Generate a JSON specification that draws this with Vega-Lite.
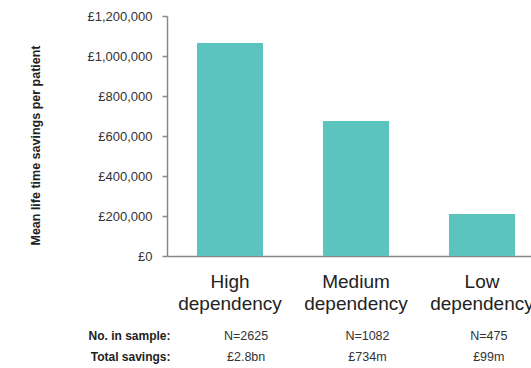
{
  "$schema": "https://vega.github.io/schema/vega-lite/v6.json",
  "autosize": {"type": "none"},
  "padding": {"left": 167, "top": 16, "right": 364, "bottom": 352},
  "background": "white",
  "config": {
    "view": {"stroke": null},
    "font": "Liberation Sans",
    "axis": {"labelFont": "Liberation Sans", "titleFont": "Liberation Sans"}
  },
  "datasets": {
    "bars": [
      {"cat": "High dependency", "value": 1065000},
      {"cat": "Medium dependency", "value": 675000},
      {"cat": "Low dependency", "value": 210000}
    ],
    "table": [
      {"cat": "High dependency", "row": "No. in sample:", "text": "N=2625"},
      {"cat": "Medium dependency", "row": "No. in sample:", "text": "N=1082"},
      {"cat": "Low dependency", "row": "No. in sample:", "text": "N=475"},
      {"cat": "High dependency", "row": "Total savings:", "text": "£2.8bn"},
      {"cat": "Medium dependency", "row": "Total savings:", "text": "£734m"},
      {"cat": "Low dependency", "row": "Total savings:", "text": "£99m"}
    ]
  },
  "bounds": "flush",
  "spacing": 69,
  "resolve": {"scale": {"x": "independent"}},
  "vconcat": [
    {
      "width": 364,
      "height": 240,
      "data": {"name": "bars"},
      "mark": {"type": "bar", "color": "#5BC4BF"},
      "encoding": {
        "x": {
          "field": "cat",
          "type": "nominal",
          "sort": ["High dependency", "Medium dependency", "Low dependency"],
          "scale": {"paddingInner": 0.476, "paddingOuter": 0.1825, "align": 0.652},
          "axis": {
            "title": null,
            "labelAngle": 0,
            "labelExpr": "split(datum.label, ' ')",
            "labelFontSize": 19,
            "labelLineHeight": 22,
            "labelColor": "#222222",
            "labelPadding": 16,
            "ticks": false,
            "domainColor": "#888888",
            "domainWidth": 1.5
          }
        },
        "y": {
          "field": "value",
          "type": "quantitative",
          "scale": {"domain": [0, 1200000]},
          "axis": {
            "title": "Mean life time savings per patient",
            "titleFontSize": 12.5,
            "titleFontWeight": "bold",
            "titleColor": "#222222",
            "titlePadding": 44,
            "titleY": 129,
            "values": [0, 200000, 400000, 600000, 800000, 1000000, 1200000],
            "labelExpr": "'£' + format(datum.value, ',')",
            "labelFontSize": 13,
            "labelColor": "#333333",
            "labelPadding": 10,
            "tickSize": 5,
            "tickColor": "#888888",
            "tickWidth": 1.5,
            "domainColor": "#888888",
            "domainWidth": 1.5,
            "grid": false
          }
        }
      }
    },
    {
      "width": 364,
      "height": 42,
      "data": {"name": "table"},
      "mark": {"type": "text", "fontSize": 12.5, "color": "#333333", "baseline": "middle"},
      "encoding": {
        "x": {
          "field": "cat",
          "type": "nominal",
          "sort": ["High dependency", "Medium dependency", "Low dependency"],
          "scale": {"paddingInner": 0.476, "paddingOuter": 0.1825, "align": 0.652},
          "axis": null
        },
        "y": {
          "field": "row",
          "type": "nominal",
          "sort": ["No. in sample:", "Total savings:"],
          "scale": {"paddingInner": 0, "paddingOuter": 0},
          "axis": {
            "title": null,
            "domain": false,
            "ticks": false,
            "tickSize": 0,
            "labelPadding": -3,
            "labelFontSize": 12,
            "labelFontWeight": "bold",
            "labelColor": "#222222"
          }
        },
        "text": {"field": "text"}
      }
    }
  ]
}
